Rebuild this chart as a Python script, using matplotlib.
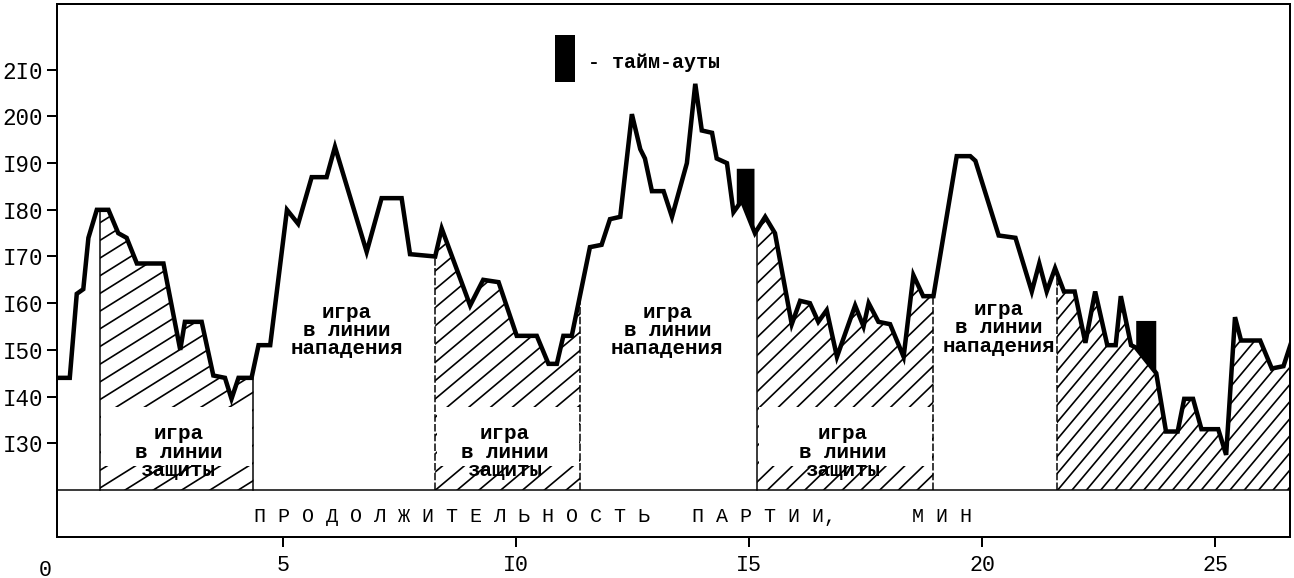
import numpy as np
import matplotlib
matplotlib.use("Agg")
import matplotlib.pyplot as plt
from matplotlib.patches import Rectangle, Polygon
from matplotlib.collections import LineCollection

# Pulse (beats/min) over the set duration (min)
minutes = [0.14, 0.42, 0.57, 0.71, 0.82, 1.00, 1.25, 1.46, 1.64, 1.86, 2.43, 2.79, 2.89, 3.25,
           3.50, 3.75, 3.89, 4.04, 4.32, 4.47, 4.72, 5.08, 5.32, 5.61, 5.93, 6.11, 6.79, 7.11,
           7.54, 7.72, 8.26, 8.40, 9.01, 9.29, 9.62, 10.01, 10.44, 10.69, 10.87, 11.01, 11.19,
           11.58, 11.83, 12.01, 12.23, 12.48, 12.66, 12.76, 12.91, 13.16, 13.34, 13.66, 13.84,
           13.98, 14.20, 14.30, 14.52, 14.66, 14.84, 15.12, 15.34, 15.55, 15.91, 16.09, 16.30,
           16.48, 16.66, 16.88, 17.27, 17.45, 17.56, 17.77, 18.02, 18.31, 18.52, 18.73, 18.95,
           19.45, 19.74, 19.85, 20.35, 20.71, 21.06, 21.22, 21.38, 21.56, 21.75, 21.98, 22.21,
           22.42, 22.68, 22.86, 22.97, 23.19, 23.29, 23.73, 23.94, 24.19, 24.33, 24.52, 24.70,
           25.06, 25.23, 25.42, 25.55, 25.96, 26.21, 26.46, 26.64]
pulse = [144, 144, 162, 163, 174, 180, 180, 175, 174, 168.5, 168.5, 150, 156, 156,
         144.5, 144, 139.5, 144, 144, 151, 151, 180, 177, 187, 187, 193.5, 171, 182.5,
         182.5, 170.5, 170, 176, 159.5, 165, 164.5, 153, 153, 147, 147, 153, 153,
         172, 172.5, 178, 178.5, 200.5, 193, 191, 184, 184, 178.5, 190, 207,
         197, 196.5, 191, 190, 179.5, 182, 175, 178.5, 175, 155.5, 160.5, 160,
         156, 158.5, 148.5, 159.5, 155, 160, 156, 155.5, 148.5, 166, 161.5, 161.5,
         191.5, 191.5, 190.5, 174.5, 174, 162.5, 168.5, 162.5, 167.5, 162.5, 162.5, 151.5,
         162.5, 151, 151, 161.5, 151, 150.5, 145, 132.5, 132.5, 139.5, 139.5, 133,
         133, 127.5, 157, 152, 152, 146, 146.5, 152]

# defence play zones (hatched) and whether their left/right borders are dashed
defence_zones = [(1.07, 4.36), (8.26, 11.37), (15.17, 18.95), (21.60, 26.64)]
border_dashed = [(False, False), (True, True), (False, True), (True, None)]
# hand-drawn hatching: angle (deg) and gap (px) differ from zone to zone
hatch_angle = [32, 40, 44, 50]
hatch_gap = [15, 14, 13, 11]
defence_label_x = [2.75, 9.76, 17.01]
attack_label_x = [6.37, 13.24, 20.35]
attack_label_y = [154.1, 154.1, 154.7]

# time-outs: start, end, top of the black mark
timeouts = [(14.72, 15.10, 188.9), (23.29, 23.72, 156.3)]

ytick_vals = [130, 140, 150, 160, 170, 180, 190, 200, 210]
ytick_text = ["I30", "I40", "I50", "I60", "I70", "I80", "I90", "200", "2I0"]
xtick_vals = [5, 10, 15, 20, 25]
xtick_text = ["5", "I0", "I5", "20", "25"]

base = 120

plt.rcParams["font.family"] = ["Liberation Mono", "DejaVu Sans Mono"]

t = np.array(minutes)
v = np.array(pulse)

fig = plt.figure(figsize=(1294 / 120, 578 / 120), dpi=120)
ax = fig.add_axes([57 / 1294, 41 / 578, 1233 / 1294, 533 / 578])
xlim = (0.146, 26.6)
ylim = (109.9, 224.1)
ax.set_xlim(*xlim)
ax.set_ylim(*ylim)
sx = 1233 / (xlim[1] - xlim[0])   # px per minute
sy = 533 / (ylim[1] - ylim[0])    # px per beat


def segment(a, b):
    inside = (t > a) & (t < b)
    xs = np.concatenate([[a], t[inside], [b]])
    ys = np.concatenate([[np.interp(a, t, v)], v[inside], [np.interp(b, t, v)]])
    return xs, ys


def hatch_lines(a, b, top, angle, gap):
    th = np.radians(angle)
    w = (b - a) * sx
    h = (top - base) * sy
    d = np.array([np.cos(th), np.sin(th)])
    n = np.array([-np.sin(th), np.cos(th)])
    L = w + h
    segs = []
    for k in np.arange(-L, L, gap):
        p0 = n * k - d * L
        p1 = n * k + d * L
        segs.append([(a + p0[0] / sx, base + p0[1] / sy), (a + p1[0] / sx, base + p1[1] / sy)])
    return segs


# hatched defence areas
for i, (a, b) in enumerate(defence_zones):
    xs, ys = segment(a, b)
    verts = [(a, base)] + list(zip(xs, ys)) + [(b, base)]
    poly = Polygon(verts, closed=True, facecolor="none", edgecolor="none")
    ax.add_patch(poly)
    lc = LineCollection(hatch_lines(a, b, ys.max(), hatch_angle[i], hatch_gap[i]),
                        colors="black", linewidths=1.0, zorder=1)
    ax.add_collection(lc)
    lc.set_clip_path(poly)
    for x, dashed in zip((a, b), border_dashed[i]):
        if dashed is None:
            continue
        ls = (0, (5, 1.5)) if dashed else "-"
        ax.plot([x, x], [base, np.interp(x, t, v)], color="black", lw=0.9, ls=ls, zorder=2)

# white boxes for the defence labels
for i, x in enumerate(defence_label_x):
    a, b = defence_zones[i]
    ax.add_patch(Rectangle((a + 0.03, 125.2), b - a - 0.06, 12.6,
                           facecolor="white", edgecolor="none", zorder=2))
    ax.text(x, 128.1, "игра\nв линии\nзащиты", ha="center", va="center",
            fontsize=12.5, fontweight="bold", linespacing=0.95, zorder=5)

for x, y in zip(attack_label_x, attack_label_y):
    ax.text(x, y, "игра\nв линии\nнападения", ha="center", va="center",
            fontsize=12.5, fontweight="bold", linespacing=0.95, zorder=5)

# time-out marks
for a, b, top in timeouts:
    xs, ys = segment(a, b)
    ax.fill_between(xs, ys, top, color="black", linewidth=0, zorder=3)

ax.plot(t, v, color="black", lw=2.7, solid_joinstyle="miter", zorder=4)

ax.axhline(base, color="black", lw=0.9, zorder=2)

# axis caption in the lower band
ax.text(4.37, 114.3, "П Р О Д О Л Ж И Т Е Л Ь Н О С Т Ь", ha="left", va="center", fontsize=12)
ax.text(13.77, 114.3, "П А Р Т И И,", ha="left", va="center", fontsize=12)
ax.text(18.49, 114.3, "М И Н", ha="left", va="center", fontsize=12)

for s in ax.spines.values():
    s.set_linewidth(1.2)

ax.set_yticks(ytick_vals, ytick_text)
ax.set_xticks(xtick_vals, xtick_text)
ax.tick_params(axis="y", direction="out", length=6, width=1.2, labelsize=13.5, pad=2.5)
ax.tick_params(axis="x", direction="out", length=6, width=1.2, labelsize=13, pad=5)
ax.text(-0.11, -0.062, "0", transform=ax.get_xaxis_transform(), ha="center", va="center",
        fontsize=13)

# legend for time-outs
fig.add_artist(Rectangle((555 / 1294, 496 / 578), 20 / 1294, 47 / 578,
                         facecolor="black", edgecolor="none", transform=fig.transFigure))
fig.text(588 / 1294, 516 / 578, "- тайм-ауты", ha="left", va="center", fontsize=12, fontweight="bold")

fig.savefig("out.png", dpi=120, facecolor="white")
